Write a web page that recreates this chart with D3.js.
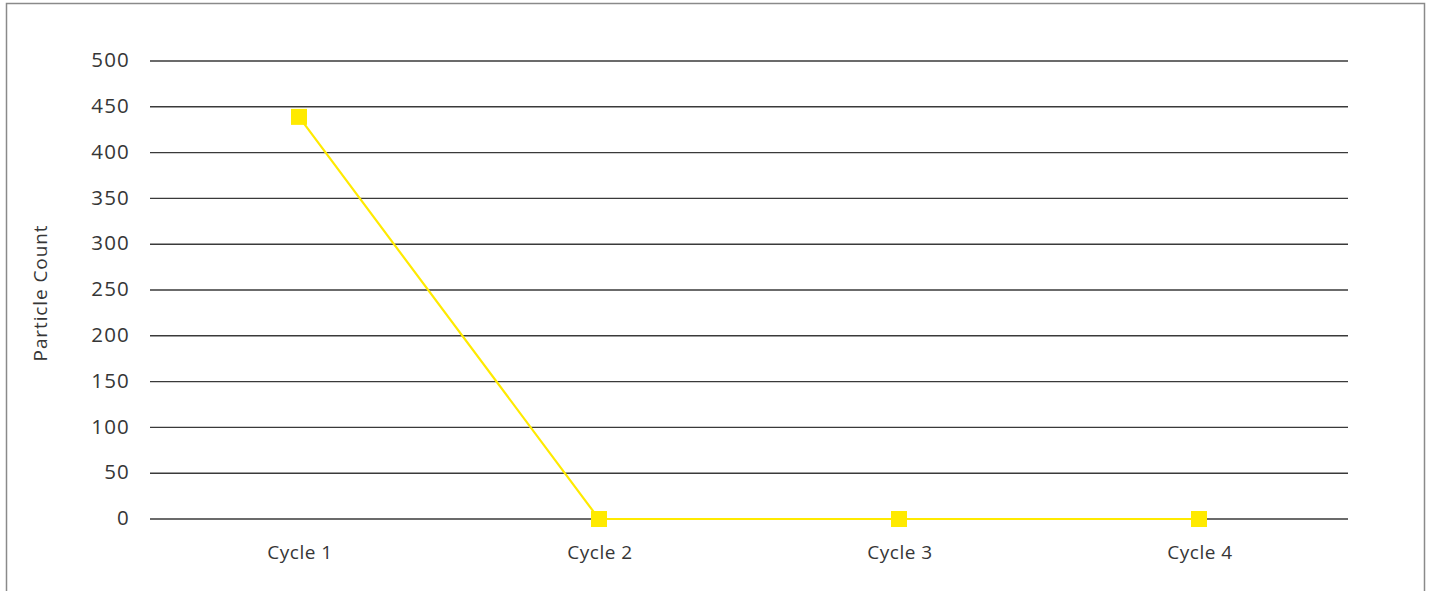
<!DOCTYPE html>
<html>
<head>
<meta charset="utf-8">
<script src="https://cdn.jsdelivr.net/npm/d3@7"></script>
<style>
  html, body { margin: 0; padding: 0; background: #fff; }
  svg { display: block; font-family: "Open Sans", "Lato", sans-serif; }
</style>
</head>
<body>
<svg id="chart" width="1431" height="591"></svg>
<script>
// Particle count per cleaning cycle
const categories = ["Cycle 1", "Cycle 2", "Cycle 3", "Cycle 4"];
const particleCount = [439, 0, 0, 0];
const yTicks = [0, 50, 100, 150, 200, 250, 300, 350, 400, 450, 500];

const svg = d3.select("#chart");
const W = 1431, H = 591;
const plot = { left: 150, right: 1350, top: 61, bottom: 519 };
const textColor = "#363636";

// outer frame
svg.append("rect")
  .attr("x", 6.5).attr("y", 3.5)
  .attr("width", 1418).attr("height", H + 10)
  .attr("fill", "#fff")
  .attr("stroke", "#8a8a8a").attr("stroke-width", 1.5);

const x = d3.scaleBand().domain(categories).range([plot.left, plot.right]);
const y = d3.scaleLinear().domain([0, 500]).range([plot.bottom, plot.top]);

// horizontal gridlines
svg.append("g").selectAll("line").data(yTicks).join("line")
  .attr("x1", plot.left).attr("x2", plot.right - 2)
  .attr("y1", d => y(d)).attr("y2", d => y(d))
  .attr("stroke", "#3a3a3a").attr("stroke-width", 1.4);

// y-axis labels
const yAxis = d3.axisLeft(y).tickValues(yTicks).tickSize(0).tickPadding(20);
const gy = svg.append("g").attr("transform", `translate(${plot.left},0)`).call(yAxis);
gy.select(".domain").remove();
gy.selectAll("text")
  .attr("font-size", 20.5).attr("fill", textColor)
  .attr("letter-spacing", 1.2)
  .attr("dy", "0.28em")
  .attr("font-family", "'Open Sans', Lato, sans-serif");

// x-axis labels
const xAxis = d3.axisBottom(x).tickSize(0).tickPadding(27);
const gx = svg.append("g").attr("transform", `translate(0,${plot.bottom})`).call(xAxis);
gx.select(".domain").remove();
gx.selectAll("text")
  .attr("font-size", 19).attr("fill", textColor)
  .attr("letter-spacing", 0.5)
  .attr("font-family", "'Open Sans', Lato, sans-serif");

// y-axis title
svg.append("text")
  .attr("transform", `translate(47,${(plot.top + plot.bottom) / 2 + 3}) rotate(-90)`)
  .attr("text-anchor", "middle")
  .attr("font-size", 19).attr("fill", textColor)
  .attr("letter-spacing", 0.9)
  .text("Particle Count");

// series line
const cx = d => x(d) + x.bandwidth() / 2;
const data = categories.map((c, i) => ({ c, v: particleCount[i] }));
svg.append("path")
  .datum(data)
  .attr("fill", "none")
  .attr("stroke", "#ffea00")
  .attr("stroke-width", 2.2)
  .attr("d", d3.line().x(d => cx(d.c) - 1).y(d => y(d.v)));

// square markers
const ms = 16;
svg.append("g").selectAll("rect").data(data).join("rect")
  .attr("x", d => cx(d.c) - 1 - ms / 2)
  .attr("y", d => y(d.v) - ms / 2)
  .attr("width", ms).attr("height", ms)
  .attr("fill", "#ffea00");
</script>
</body>
</html>
